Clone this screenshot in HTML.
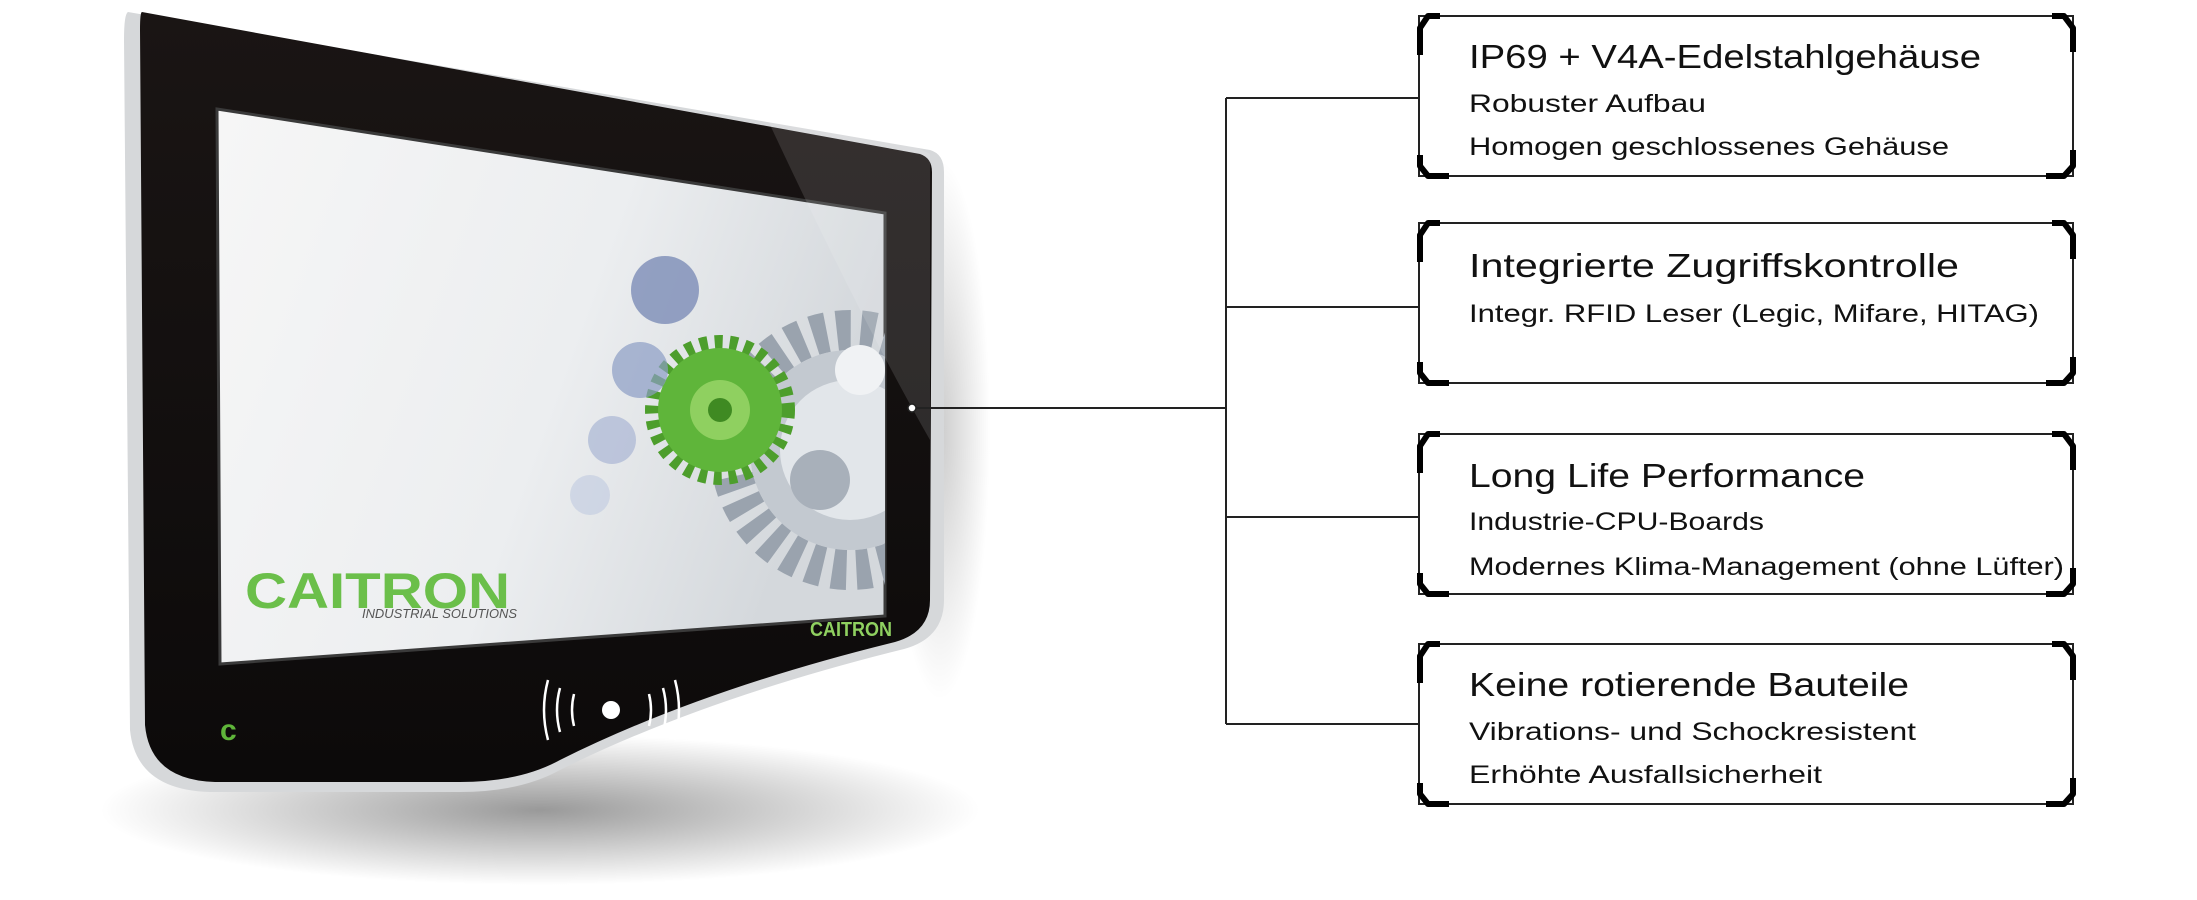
<!DOCTYPE html>
<html><head><meta charset="utf-8"><style>
html,body{margin:0;padding:0;background:#fff;}
svg{display:block;}
text{font-family:"Liberation Sans",sans-serif;fill:#111;}
</style></head><body>
<svg width="2197" height="900" viewBox="0 0 2197 900" xmlns="http://www.w3.org/2000/svg">
<defs>
<radialGradient id="sh" cx="0.5" cy="0.5" r="0.5">
<stop offset="0" stop-color="#000" stop-opacity="0.4"/>
<stop offset="1" stop-color="#000" stop-opacity="0"/>
</radialGradient>
<linearGradient id="scr" x1="0" y1="0" x2="1" y2="0.3">
<stop offset="0" stop-color="#f6f6f6"/>
<stop offset="0.6" stop-color="#eceef0"/>
<stop offset="1" stop-color="#d4d8dc"/>
</linearGradient>
<linearGradient id="bez" x1="0" y1="0" x2="0" y2="1">
<stop offset="0" stop-color="#1a1514"/>
<stop offset="1" stop-color="#0c0a0a"/>
</linearGradient>
<clipPath id="sc"><path d="M217,109 L885,213 L885,616 L220,664 Z"/></clipPath>
</defs>
<!-- shadow -->
<ellipse cx="540" cy="810" rx="440" ry="75" fill="url(#sh)"/>
<ellipse cx="940" cy="430" rx="50" ry="270" fill="url(#sh)" opacity="0.5"/>
<!-- body silver edge -->
<path d="M128,12 L930,150 Q944,154 944,172 L944,600 Q944,640 900,650 Q700,700 560,770 Q520,792 460,792 L210,792 Q136,790 130,730 L124,40 Q124,14 128,12 Z" fill="#d6d8da"/>
<!-- bezel -->
<path d="M142,12 L920,154 Q932,158 932,172 L930,600 Q930,632 895,642 Q700,690 560,760 Q520,782 460,782 L215,782 Q150,780 145,725 L140,30 Q140,12 142,12 Z" fill="url(#bez)"/>
<!-- screen -->
<path d="M217,109 L885,213 L885,616 L220,664 Z" fill="url(#scr)" stroke="#3a3a3a" stroke-width="3"/>
<g clip-path="url(#sc)">
<circle cx="850" cy="450" r="120" fill="none" stroke="#9aa3ae" stroke-width="40" stroke-dasharray="14 10"/>
<circle cx="850" cy="450" r="100" fill="#c3c9d0"/>
<circle cx="850" cy="450" r="70" fill="#e2e6ea"/>
<circle cx="820" cy="480" r="30" fill="#a8b0ba"/>
<circle cx="860" cy="370" r="25" fill="#f0f2f4"/>
<circle cx="720" cy="410" r="68" fill="none" stroke="#4d9e2c" stroke-width="14" stroke-dasharray="8 7"/>
<circle cx="720" cy="410" r="62" fill="#5fb53a"/>
<circle cx="720" cy="410" r="30" fill="#8fd060"/>
<circle cx="720" cy="410" r="12" fill="#3f8a22"/>
<circle cx="665" cy="290" r="34" fill="#7c8cb6" opacity="0.8"/>
<circle cx="640" cy="370" r="28" fill="#8c9cc4" opacity="0.7"/>
<circle cx="612" cy="440" r="24" fill="#a0aed0" opacity="0.6"/>
<circle cx="590" cy="495" r="20" fill="#b8c3dd" opacity="0.5"/>
</g>
<!-- glare -->
<path d="M740,60 L930,154 L930,440 Q850,300 740,60 Z" fill="#fff" opacity="0.12"/>
<!-- logos -->
<text x="245" y="608" font-size="50" font-weight="bold" style="fill:#6bbf4a" textLength="265" lengthAdjust="spacingAndGlyphs">CAITRON</text>
<text x="362" y="618" font-size="13" font-style="italic" style="fill:#555" textLength="155" lengthAdjust="spacingAndGlyphs">INDUSTRIAL SOLUTIONS</text>
<text x="810" y="636" font-size="20" font-weight="bold" style="fill:#8fd060" textLength="82" lengthAdjust="spacingAndGlyphs">CAITRON</text>
<text x="220" y="740" font-size="30" font-weight="bold" style="fill:#5fb53a">c</text>
<!-- rfid -->
<g stroke="#fff" stroke-width="2.5" fill="none">
<path d="M548,680 Q540,710 548,740"/><path d="M560,688 Q554,710 560,732"/><path d="M574,694 Q570,710 574,726"/>
<path d="M675,680 Q683,710 675,740"/><path d="M663,688 Q669,710 663,732"/><path d="M649,694 Q653,710 649,726"/>
</g>
<circle cx="611" cy="710" r="9" fill="#fff"/>
<!-- connector -->
<circle cx="912" cy="408" r="4" fill="#fff" stroke="#222" stroke-width="1.5"/>
<g stroke="#222" stroke-width="2" fill="none">
<line x1="916" y1="408" x2="1226" y2="408"/>
<line x1="1226" y1="98" x2="1226" y2="724"/>
<line x1="1226" y1="98" x2="1418" y2="98"/>
<line x1="1226" y1="307" x2="1418" y2="307"/>
<line x1="1226" y1="517" x2="1418" y2="517"/>
<line x1="1226" y1="724" x2="1418" y2="724"/>
</g>
<g stroke="#222" stroke-width="2" fill="none">
<rect x="1419" y="16" width="654" height="160"/>
<rect x="1419" y="223" width="654" height="160"/>
<rect x="1419" y="434" width="654" height="160"/>
<rect x="1419" y="644" width="654" height="160"/>
</g>
<g stroke="#000" stroke-width="6" fill="none" stroke-linejoin="round">
<path d="M1420,55 L1420,28 L1428,16 L1440,16"/><path d="M2052,16 L2064,16 L2073,28 L2073,52"/>
<path d="M1420,155 L1420,166 L1428,176 L1449,176"/><path d="M2046,176 L2064,176 L2073,166 L2073,150"/>
<path d="M1420,262 L1420,235 L1428,223 L1440,223"/><path d="M2052,223 L2064,223 L2073,235 L2073,259"/>
<path d="M1420,362 L1420,373 L1428,383 L1449,383"/><path d="M2046,383 L2064,383 L2073,373 L2073,357"/>
<path d="M1420,473 L1420,446 L1428,434 L1440,434"/><path d="M2052,434 L2064,434 L2073,446 L2073,470"/>
<path d="M1420,573 L1420,584 L1428,594 L1449,594"/><path d="M2046,594 L2064,594 L2073,584 L2073,568"/>
<path d="M1420,683 L1420,656 L1428,644 L1440,644"/><path d="M2052,644 L2064,644 L2073,656 L2073,680"/>
<path d="M1420,783 L1420,794 L1428,804 L1449,804"/><path d="M2046,804 L2064,804 L2073,794 L2073,778"/>
</g>
<g font-size="33">
<text x="1469" y="68" textLength="512" lengthAdjust="spacingAndGlyphs">IP69 + V4A-Edelstahlgehäuse</text>
<text x="1469" y="277" textLength="490" lengthAdjust="spacingAndGlyphs">Integrierte Zugriffskontrolle</text>
<text x="1469" y="487" textLength="396" lengthAdjust="spacingAndGlyphs">Long Life Performance</text>
<text x="1469" y="696" textLength="440" lengthAdjust="spacingAndGlyphs">Keine rotierende Bauteile</text>
</g>
<g font-size="25">
<text x="1469" y="112" textLength="237" lengthAdjust="spacingAndGlyphs">Robuster Aufbau</text>
<text x="1469" y="155" textLength="480" lengthAdjust="spacingAndGlyphs">Homogen geschlossenes Gehäuse</text>
<text x="1469" y="322" textLength="570" lengthAdjust="spacingAndGlyphs">Integr. RFID Leser (Legic, Mifare, HITAG)</text>
<text x="1469" y="530" textLength="295" lengthAdjust="spacingAndGlyphs">Industrie-CPU-Boards</text>
<text x="1469" y="575" textLength="595" lengthAdjust="spacingAndGlyphs">Modernes Klima-Management (ohne Lüfter)</text>
<text x="1469" y="740" textLength="447" lengthAdjust="spacingAndGlyphs">Vibrations- und Schockresistent</text>
<text x="1469" y="783" textLength="353" lengthAdjust="spacingAndGlyphs">Erhöhte Ausfallsicherheit</text>
</g>
</svg>
</body></html>
